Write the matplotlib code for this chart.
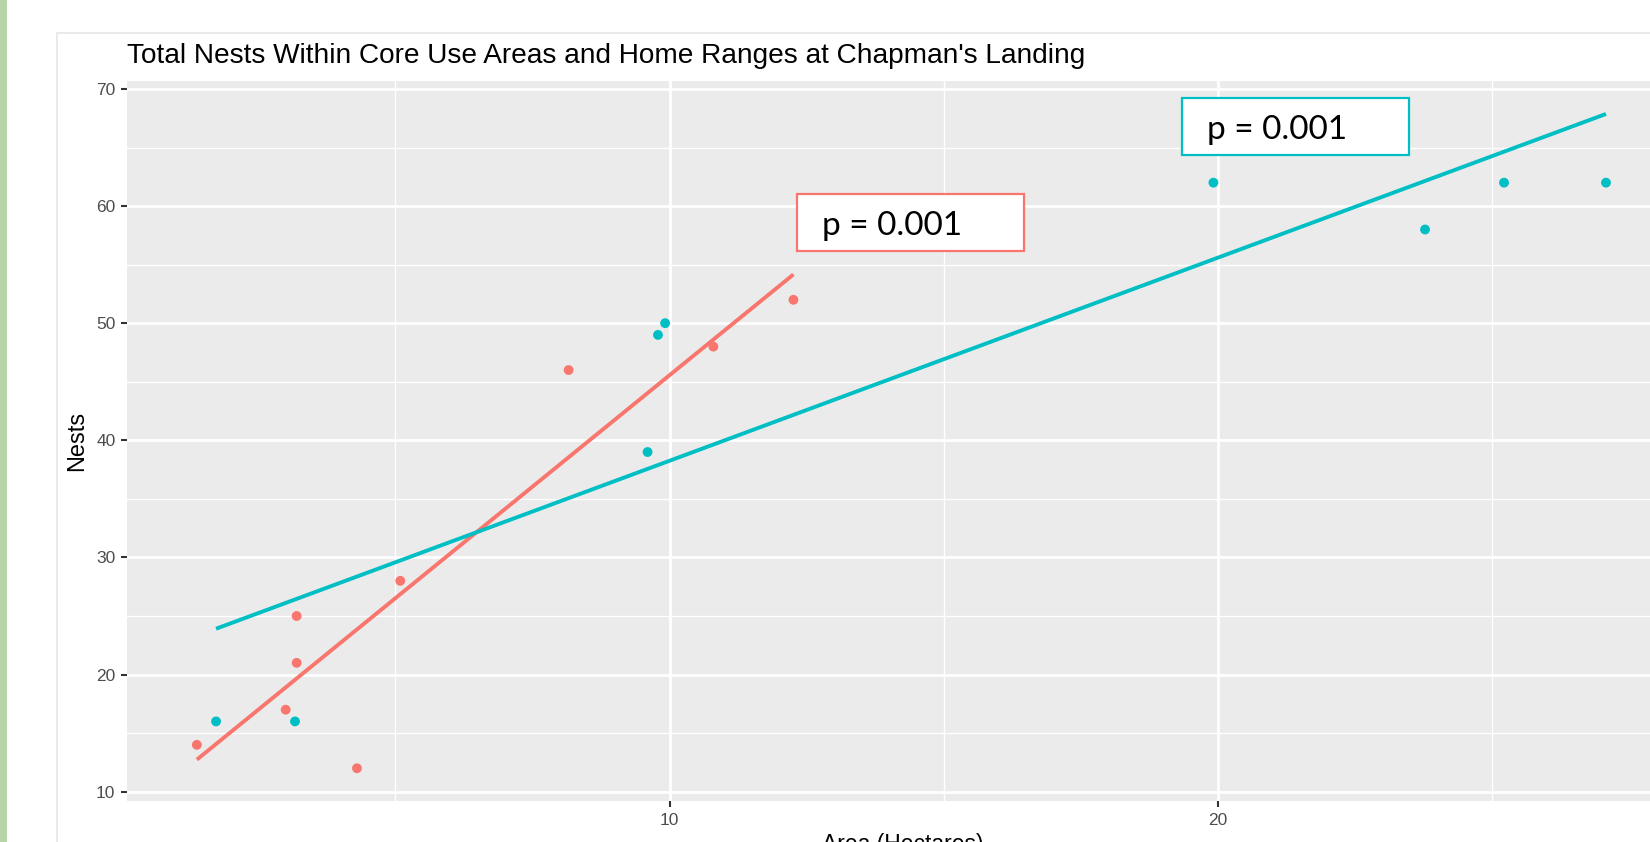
import numpy as np
import matplotlib
matplotlib.use("Agg")
import matplotlib.pyplot as plt
from matplotlib.patches import Rectangle

# ---- data ----
core_area = [1.38, 3.0, 3.2, 3.2, 4.3, 5.09, 8.16, 10.8, 12.26]
core_nests = [14, 17, 21, 25, 12, 28, 46, 48, 52]
home_area = [1.73, 3.17, 9.6, 9.79, 9.92, 19.92, 23.78, 25.22, 27.08]
home_nests = [16, 16, 39, 49, 50, 62, 58, 62, 62]
x_ticks = [10, 20]
y_ticks = [10, 20, 30, 40, 50, 60, 70]
p_labels = ["p = 0.001", "p = 0.001"]
title = "Total Nests Within Core Use Areas and Home Ranges at Chapman's Landing"

RED = "#F8766D"
BLUE = "#00BFC4"
W, H = 1650, 842

plt.rcParams['font.family'] = ['Liberation Sans', 'DejaVu Sans']
fig = plt.figure(figsize=(W / 100, H / 100), dpi=100)
fig.patch.set_facecolor("white")

def fx(px):
    return px / W

def fy(py):
    return 1 - py / H

# left green strip and card border (behind the axes)
fig.patches.append(Rectangle((0, 0), fx(7), 1, transform=fig.transFigure,
                             facecolor="#B7D3A8", edgecolor="none", zorder=-5))
fig.patches.append(Rectangle((fx(57), fy(900)), fx(1700), fy(32.7) - fy(900),
                             transform=fig.transFigure, facecolor="white",
                             edgecolor="#E6E6E6", linewidth=1.2, zorder=-5))

# axes geometry
left_px, top_px, bottom_px = 127.3, 81.0, 800.7
px_per_x = 54.83
x_zero_px = 669.5 - 10 * px_per_x
xlim = ((left_px - x_zero_px) / px_per_x, 28.37)
ylim = (9.23, 70.68)
right_px = left_px + (xlim[1] - xlim[0]) * px_per_x
ax = fig.add_axes([fx(left_px), fy(bottom_px), (right_px - left_px) / W,
                   (bottom_px - top_px) / H])
ax.set_zorder(1)
ax.set_facecolor("#EBEBEB")
for s in ax.spines.values():
    s.set_visible(False)
ax.set_xlim(*xlim)
ax.set_ylim(*ylim)

ax.set_xticks(x_ticks)
ax.set_yticks(y_ticks)
ax.set_xticks([5, 15, 25], minor=True)
ax.set_yticks([15, 25, 35, 45, 55, 65], minor=True)
ax.grid(which="major", color="white", linewidth=2.0)
ax.grid(which="minor", color="white", linewidth=1.0)
ax.set_axisbelow(True)
ax.tick_params(which="major", length=4.5, width=1.5, color="#333333",
               labelcolor="#4D4D4D", labelsize=12.5, pad=4)
ax.tick_params(which="minor", length=0)

# regression lines (lm fits) and points
for xs, ys, c in [(core_area, core_nests, RED), (home_area, home_nests, BLUE)]:
    xs = np.array(xs); ys = np.array(ys)
    b, a = np.polyfit(xs, ys, 1)
    xx = np.array([xs.min(), xs.max()])
    ax.plot(xx, a + b * xx, color=c, linewidth=2.8, solid_capstyle="butt", zorder=3)
    ax.scatter(xs, ys, s=50, color=c, edgecolors="none", zorder=4)

fig.text(fx(77), fy(440.8), "Nests", rotation=90, ha="center", va="center",
         fontsize=17, color="black")
fig.text(fx(903), fy(832.7), "Area (Hectares)", ha="center", va="top",
         fontsize=16.5, color="black")
fig.text(fx(127.3), fy(62.7), title, ha="left", va="baseline", fontsize=20.2,
         color="black")

# p-value boxes
boxes = [((797.3, 194.0, 1024.0, 250.7), RED, 821.7),
         ((1181.5, 98.0, 1408.5, 155.0), BLUE, 1207.0)]
for lab, ((x0, y0, x1, y1), c, tx) in zip(p_labels, boxes):
    fig.patches.append(Rectangle((fx(x0), fy(y1)), fx(x1 - x0), fy(y0) - fy(y1),
                                 transform=fig.transFigure, facecolor="white",
                                 edgecolor=c, linewidth=1.6, zorder=5))
    fig.text(fx(tx), fy(y0 + 41), lab, ha="left", va="baseline",
             fontsize=24, family=["Lato", "DejaVu Sans"], color="black", zorder=6)

fig.savefig("out.png", dpi=100)
